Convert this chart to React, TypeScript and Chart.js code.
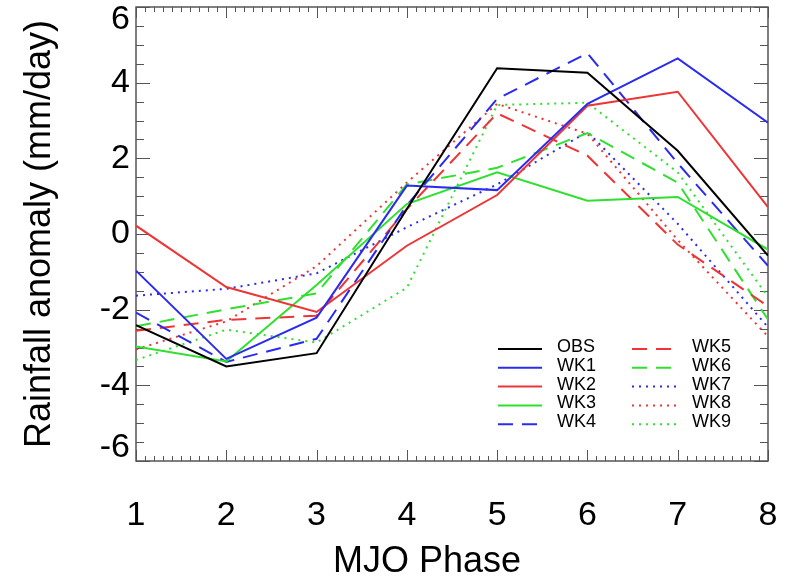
import React, { useEffect, useRef } from 'react';
import { Chart, registerables } from 'chart.js';

Chart.register(...registerables);

// ---- data ----
const phases = [1, 2, 3, 4, 5, 6, 7, 8];
const phaseTickLabels = ['1', '2', '3', '4', '5', '6', '7', '8'];
const yTickValues = [-6, -4, -2, 0, 2, 4, 6];
const yTickLabels = ['-6', '-4', '-2', '0', '2', '4', '6'];
const seriesNames = ['OBS', 'WK1', 'WK2', 'WK3', 'WK4', 'WK5', 'WK6', 'WK7', 'WK8', 'WK9'];

const obs = [-2.41, -3.5, -3.15, 0.66, 4.38, 4.26, 2.2, -0.57];
const wk1 = [-0.97, -3.3, -2.21, 1.28, 1.16, 3.44, 4.64, 2.94];
const wk2 = [0.22, -1.4, -2.06, -0.31, 1.03, 3.39, 3.76, 0.71];
const wk3 = [-2.97, -3.37, -1.35, 0.79, 1.63, 0.88, 0.98, -0.41];
const wk4 = [-2.08, -3.38, -2.77, 0.76, 3.57, 4.78, 1.87, -0.84];
const wk5 = [-2.56, -2.27, -2.16, 0.66, 3.19, 2.07, -0.28, -1.91];
const wk6 = [-2.44, -1.99, -1.57, 1.31, 1.75, 2.67, 1.36, -2.26];
const wk7 = [-1.63, -1.45, -1.04, 0.18, 1.31, 2.7, 0.27, -2.46];
const wk8 = [-3.05, -2.31, -0.85, 1.36, 3.44, 2.65, -0.16, -2.71];
const wk9 = [-3.33, -2.53, -2.87, -1.42, 3.41, 3.47, 1.63, -1.66];

const seriesValues = [obs, wk1, wk2, wk3, wk4, wk5, wk6, wk7, wk8, wk9];

// ---- styles ----
const BLACK = '#000000';
const BLUE = '#2b2bf0';
const RED = '#ee3434';
const GREEN = '#2fe02f';
const SOLID: number[] = [];
const DASH = [15, 9];
const DOT = [2, 5];
const seriesColors = [BLACK, BLUE, RED, GREEN, BLUE, RED, GREEN, BLUE, RED, GREEN];
const seriesDashes = [SOLID, SOLID, SOLID, SOLID, DASH, DASH, DASH, DOT, DOT, DOT];

const FONT = "'Liberation Sans', Arial, Helvetica, sans-serif";

const framePlugin = {
  id: 'idlFrame',
  beforeDatasetsDraw(chart: any) {
    const { ctx, chartArea: a, scales } = chart;
    const xs = scales.x;
    const ys = scales.y;
    ctx.save();
    ctx.strokeStyle = '#555555';
    ctx.lineWidth = 1;
    const seg = (x1: number, y1: number, x2: number, y2: number) => {
      ctx.beginPath();
      ctx.moveTo(x1, y1);
      ctx.lineTo(x2, y2);
      ctx.stroke();
    };
    // x ticks: major at each phase, minor every 0.1
    for (let k = 0; k <= 70; k++) {
      const v = phases[0] + k / 10;
      const px = Math.round(xs.getPixelForValue(v)) + 0.5;
      const len = k % 10 === 0 ? 11 : 5;
      seg(px, a.bottom, px, a.bottom - len);
      seg(px, a.top, px, a.top + len);
    }
    // y ticks: major every 2, minor every 0.5
    for (let k = 0; k <= 24; k++) {
      const v = -6 + k * 0.5;
      const py = Math.round(ys.getPixelForValue(v)) + 0.5;
      const len = k % 4 === 0 ? 14 : 8;
      seg(a.left, py, a.left + len, py);
      seg(a.right, py, a.right - len, py);
    }
    ctx.lineWidth = 1.5;
    ctx.strokeRect(a.left, a.top, a.right - a.left, a.bottom - a.top);
    ctx.restore();
  },
};

const legendPlugin = {
  id: 'twoColumnLegend',
  afterDraw(chart: any) {
    const { ctx, chartArea: a } = chart;
    ctx.save();
    ctx.font = `18px ${FONT}`;
    ctx.textBaseline = 'middle';
    ctx.textAlign = 'left';
    const rowStep = 18.8;
    chart.data.datasets.forEach((ds: any, i: number) => {
      const col = i < 5 ? 0 : 1;
      const row = i % 5;
      const y = a.top + 342 + row * rowStep;
      const x0 = a.left + (col === 0 ? 362 : 496);
      const x1 = x0 + (col === 0 ? 44 : 48);
      const tx = a.left + (col === 0 ? 421 : 556);
      ctx.strokeStyle = ds.borderColor;
      ctx.lineWidth = 2;
      ctx.setLineDash(ds.borderDash || []);
      ctx.beginPath();
      ctx.moveTo(x0, y);
      ctx.lineTo(x1, y);
      ctx.stroke();
      ctx.setLineDash([]);
      ctx.fillStyle = '#000000';
      ctx.fillText(ds.label, tx, y - 2);
    });
    ctx.restore();
  },
};

export default function App() {
  const canvasRef = useRef<HTMLCanvasElement | null>(null);

  useEffect(() => {
    const canvas = canvasRef.current;
    if (!canvas) return;
    const datasets = seriesNames.map((name, i) => ({
      label: name,
      data: phases.map((p, j) => ({ x: p, y: seriesValues[i][j] })),
      borderColor: seriesColors[i],
      backgroundColor: seriesColors[i],
      borderDash: seriesDashes[i],
      borderWidth: 2,
      pointRadius: 0,
      tension: 0,
      fill: false,
    }));

    const chart = new Chart(canvas, {
      type: 'line',
      data: { datasets },
      plugins: [framePlugin, legendPlugin],
      options: {
        responsive: false,
        animation: false,
        devicePixelRatio: 1,
        layout: { padding: { left: 0, top: 7, right: 30, bottom: 0 } },
        plugins: {
          legend: { display: false },
          tooltip: { enabled: false },
        },
        scales: {
          x: {
            type: 'linear',
            min: phases[0],
            max: phases[phases.length - 1],
            grid: { display: false, drawTicks: false },
            border: { display: false },
            afterBuildTicks: (s: any) => {
              s.ticks = phases.map((v) => ({ value: v }));
            },
            afterFit: (s: any) => {
              s.height = 123;
              s.paddingLeft = 0;
              s.paddingRight = 0;
            },
            ticks: {
              padding: 34,
              color: '#000000',
              font: { family: FONT, size: 34 },
              maxRotation: 0,
              autoSkip: false,
              callback: (value: any) => {
                const i = phases.indexOf(Number(value));
                return i >= 0 ? phaseTickLabels[i] : '';
              },
            },
            title: {
              display: true,
              text: 'MJO Phase     ',
              color: '#000000',
              font: { family: FONT, size: 36 },
              padding: { top: 0, bottom: 0 },
            },
          },
          y: {
            type: 'linear',
            min: -6,
            max: 6,
            grid: { display: false, drawTicks: false },
            border: { display: false },
            afterBuildTicks: (s: any) => {
              s.ticks = yTickValues.map((v) => ({ value: v }));
            },
            afterFit: (s: any) => {
              s.width = 136;
              s.paddingTop = 0;
              s.paddingBottom = 0;
            },
            ticks: {
              padding: 6,
              color: '#000000',
              autoSkip: false,
              font: (c: any) => ({
                family: FONT,
                size: 34,
                lineHeight: c.tick && Math.abs(c.tick.value) === 6 ? '26px' : 1.2,
              }),
              callback: (value: any) => {
                const v = Number(value);
                const i = yTickValues.indexOf(v);
                const s = i >= 0 ? yTickLabels[i] : '';
                if (v === 6) return ['', s];
                if (v === -6) return [s, ''];
                return s;
              },
            },
            title: {
              display: true,
              text: 'Rainfall anomaly (mm/day)',
              color: '#000000',
              font: { family: FONT, size: 36 },
              padding: { top: 18, bottom: 0 },
            },
          },
        },
      },
    } as any);

    return () => {
      chart.destroy();
    };
  }, []);

  return (
    <div
      style={{
        position: 'fixed',
        left: 0,
        top: 0,
        width: 798,
        height: 584,
        background: '#ffffff',
      }}
    >
      <canvas ref={canvasRef} width={798} height={584} style={{ width: 798, height: 584, display: 'block' }} />
    </div>
  );
}
